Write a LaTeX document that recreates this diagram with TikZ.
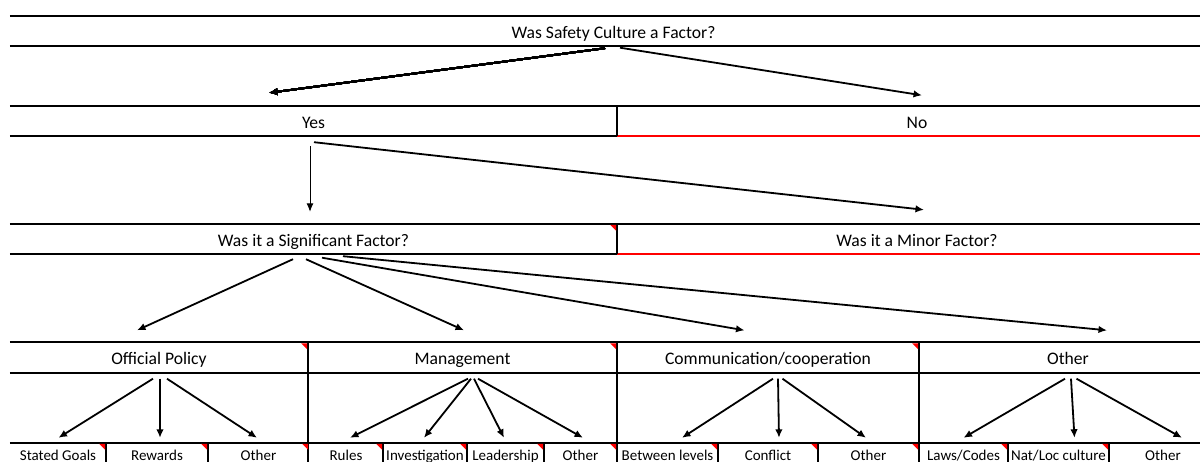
\documentclass[tikz,border=0pt]{standalone}
\usepackage{fontspec}
\setmainfont{Carlito}
\usetikzlibrary{arrows.meta}
% red comment mark in the top right corner of a cell
\newcommand{\flag}[1]{\fill[red] ([shift={(-1,1)}]#1.north east) -- ++(-6,0) -- ++(6,6) -- cycle;}

\begin{document}
\begin{tikzpicture}[x=1pt,y=-1pt,
  cell/.style={inner sep=0pt, text height=22pt, text depth=8pt, minimum height=30pt, font=\fontsize{17.6}{20}\selectfont},
  leaf/.style={inner sep=0pt, text height=17.5pt, text depth=11.5pt, minimum height=29pt, font=\fontsize{15}{18}\selectfont},
  rule/.style={line width=2.2pt},
  redrule/.style={line width=2.2pt, red},
  sep/.style={line width=1.5pt},
  arr/.style={line width=1.8pt, -{Latex[length=8.5pt,width=7.5pt]}}]
\useasboundingbox (0,0) rectangle (1200,461);
\fill[white] (0,0) rectangle (1200,461);
\clip (0,0) rectangle (1200,461);
% Question rows
\node[cell, minimum width=1207pt] (title) at (613.5,31) {Was Safety Culture a Factor?};
\node[cell, minimum width=607pt] (yes) at (313.5,121) {Yes};
\node[cell, minimum width=600pt] (no) at (917,121) {No};
\node[cell, minimum width=607pt] (sig) at (313.5,239) {Was it a Significant Factor?};
\node[cell, minimum width=600pt] (minor) at (917,239) {Was it a Minor Factor?};
% Categories
\node[cell, minimum width=298pt] (pol) at (159,357.5) {Official Policy};
\node[cell, minimum width=309pt] (mgmt) at (462.5,357.5) {Management};
\node[cell, minimum width=302pt] (comm) at (768,357.5) {Communication/cooperation};
\node[cell, minimum width=298pt] (oth) at (1068,357.5) {Other};
% Sub categories
\foreach \n/\x/\w/\t in {goals/58/96/{Stated Goals}, rewards/157/102/Rewards, polother/258.5/101/Other,
    rules/346/74/Rules, invest/425/84/Investigation, leader/505.5/77/Leadership, mgmtother/580.5/73/Other,
    between/667.5/101/{Between levels}, conflict/768/100/Conflict, commother/868.5/101/Other,
    laws/963.5/89/{Laws/Codes}, natloc/1058.5/101/{Nat/Loc culture}, othother/1163/108/Other}
  \node[leaf, minimum width=\w pt] (\n) at (\x,457.5) {\t};
% Grid lines
\draw[rule] (title.north west) -- (title.north east) (title.south west) -- (title.south east);
\draw[rule] (yes.north west) -- (no.north east) (yes.south west) -- (yes.south east);
\draw[redrule] (no.south west) -- (no.south east);
\draw[sep] (yes.north east) -- (yes.south east);
\draw[rule] (sig.north west) -- (minor.north east) (sig.south west) -- (sig.south east);
\draw[redrule] (minor.south west) -- (minor.south east);
\draw[sep] (sig.north east) -- (sig.south east);
\draw[rule] (pol.north west) -- (oth.north east) (pol.south west) -- (oth.south east) (goals.north west) -- (othother.north east);
\foreach \c in {pol,mgmt,comm} \draw[sep] (\c.north east) -- (\c.north east |- goals.south);
\foreach \c in {goals,rewards,rules,invest,leader,between,conflict,laws,natloc} \draw[sep] (\c.north east) -- (\c.south east);
% Comment marks
\foreach \c in {sig,pol,mgmt,comm,oth,goals,rewards,polother,rules,invest,leader,mgmtother,between,conflict,commother,laws,natloc,othother}
  \flag{\c}
% Arrows
\draw[arr] ([shift={(-8.5,2)}]title.south) -- ([shift={(-44.5,-13)}]yes.north);
\draw[arr] ([shift={(6.5,1.5)}]title.south) -- ([shift={(5,-10.5)}]no.north);
\draw[line width=1pt, -{Latex[length=8.5pt,width=7pt]}] ([shift={(-3.5,10)}]yes.south) -- ([shift={(-3.5,-12)}]sig.north);
\draw[arr] ([shift={(0.5,6)}]yes.south) -- ([shift={(7,-14)}]minor.north);
\draw[arr] ([shift={(-20.5,5)}]sig.south) -- ([shift={(-22,-12)}]pol.north);
\draw[arr] ([shift={(-7.5,5)}]sig.south) -- ([shift={(1.5,-12)}]mgmt.north);
\draw[arr] ([shift={(8.5,3.5)}]sig.south) -- ([shift={(-23.5,-12)}]comm.north);
\draw[arr] ([shift={(29.5,2)}]sig.south) -- ([shift={(39,-12)}]oth.north);
\foreach \s/\t/\a/\b in {pol/goals/-6/0.5, pol/rewards/1/3, pol/polother/8/-1.5,
    mgmt/rules/5.5/4, mgmt/invest/8.5/-1, mgmt/leader/11.5/-1.5, mgmt/mgmtother/15.5/2.5,
    comm/between/5/14.5, comm/conflict/10/11, comm/commother/14.5/-2.5,
    oth/laws/-3/0, oth/natloc/3/16, oth/othother/8.5/19}
  \draw[arr] ([shift={(\a,6)}]\s.south) -- ([shift={(\b,-5)}]\t.north);
\end{tikzpicture}
\end{document}
